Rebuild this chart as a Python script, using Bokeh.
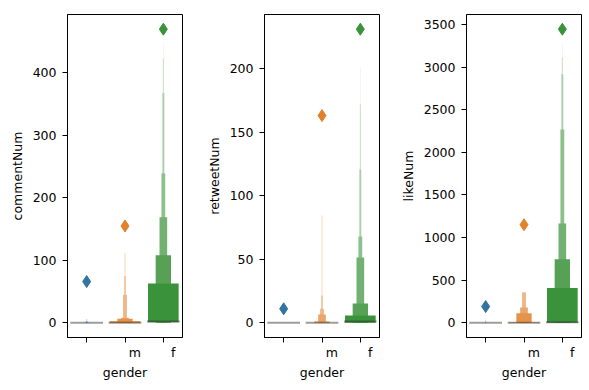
import numpy as np
from bokeh.plotting import figure
from bokeh.layouts import row
from bokeh.models import Range1d, FixedTicker, ColumnDataSource
from bokeh.embed import file_html
from bokeh.resources import INLINE

# ---------------- data ----------------
genders = ["", "m", "f"]
tick_labels = ["", "m", "f"]
palette = ["#3274a1", "#e1812c", "#3a923a"]

# commentNum: letter-value box ends, innermost (quartiles) first
comment_median = [0, 0, 2]
comment_max = [66, 155, 470]
comment_upper = [
    [0, 0, 0, 1, 3, 6, 6],
    [2.6, 6.4, 8, 45, 75, 112, 112],
    [63, 108, 169, 239, 368, 423, 447],
]
comment_lower = [
    [0, 0, 0, 0, 0, 0, 0],
    [0, 0, 0, 0, 0, 0, 0],
    [1, 0, 0, 0, 0, 0, 0],
]
comment_ticks = [0, 100, 200, 300, 400]

# retweetNum
retweet_median = [0, 0, 1]
retweet_max = [11, 163, 231]
retweet_upper = [
    [0, 0, 0, 0, 0, 0, 0],
    [0, 1, 6.5, 11, 21.5, 84.5, 84.5],
    [5.7, 15.2, 51.4, 68, 120.7, 172, 201],
]
retweet_lower = [
    [0, 0, 0, 0, 0, 0, 0],
    [0, 0, 0, 0, 0, 0, 0],
    [0, 0, 0, 0, 0, 0, 0],
]
retweet_ticks = [0, 50, 100, 150, 200]

# likeNum
like_median = [0, 0, 8]
like_max = [191, 1151, 3445]
like_upper = [
    [0, 0, 0, 2, 10, 30, 50],
    [8, 113, 180, 356, 358, 360, 360],
    [409, 745, 1166, 2268, 2916, 3120, 3277],
]
like_lower = [
    [0, 0, 0, 0, 0, 0, 0],
    [0, 0, 0, 0, 0, 0, 0],
    [0, 0, 0, 0, 0, 0, 0],
]
like_ticks = [0, 500, 1000, 1500, 2000, 2500, 3000, 3500]

FONT = "DejaVu Sans"
FS = "12.5px"
NBSP = "\u00a0"


def mix_white(hex_color, t):
    h = hex_color.lstrip("#")
    rgb = [int(h[i:i + 2], 16) for i in (0, 2, 4)]
    out = [round(c + (255 - c) * t) for c in rgb]
    return "#%02x%02x%02x" % tuple(out)


def make_panel(ylabel, medians, maxima, uppers, lowers, yticks,
               border_left, border_right):
    lo = 0.0
    hi = float(max(maxima))
    span = hi - lo
    p = figure(frame_width=115, frame_height=323,
               x_range=Range1d(-0.5, 2.5),
               y_range=Range1d(lo - 0.05 * span, hi + 0.05 * span),
               output_backend="svg", toolbar_location=None,
               min_border_left=border_left, min_border_right=border_right,
               min_border_top=14, min_border_bottom=45)
    p.background_fill_color = "white"
    p.border_fill_color = "white"
    p.outline_line_color = "black"
    p.outline_line_width = 1
    p.xgrid.visible = False
    p.ygrid.visible = False

    for ci in range(len(genders)):
        up = uppers[ci]
        lw = lowers[ci]
        k = len(up)
        left, right, bottom, top, colors = [], [], [], [], []
        for j in range(k - 1, -1, -1):
            w = 0.8 * 2.0 ** (-j)
            left.append(ci - w / 2)
            right.append(ci + w / 2)
            bottom.append(lw[j])
            top.append(up[j])
            t = 0.85 * j / (k - 1) if k > 1 else 0
            colors.append(mix_white(palette[ci], t))
        src = ColumnDataSource(dict(left=left, right=right, bottom=bottom,
                                    top=top, color=colors))
        p.quad(left="left", right="right", bottom="bottom", top="top",
               fill_color="color", line_color=None, source=src)

    msrc = ColumnDataSource(dict(
        x0=[ci - 0.4 for ci in range(len(genders))],
        x1=[ci + 0.4 for ci in range(len(genders))],
        y=medians))
    p.segment(x0="x0", x1="x1", y0="y", y1="y", source=msrc,
              line_color="#262626", line_alpha=0.45, line_width=2,
              line_cap="square")

    osrc = ColumnDataSource(dict(x=list(range(len(genders))), y=maxima,
                                 color=palette))
    p.scatter(x="x", y="y", marker="diamond", size=12, fill_color="color",
              line_color="color", source=osrc)

    p.xaxis.ticker = FixedTicker(ticks=list(range(len(genders))))
    p.xaxis.major_label_overrides = {
        i: (NBSP * 5 + lab if lab else "") for i, lab in enumerate(tick_labels)}
    p.yaxis.ticker = FixedTicker(ticks=yticks)
    p.xaxis.axis_label = "gender"
    p.yaxis.axis_label = ylabel
    for ax in (p.xaxis[0], p.yaxis[0]):
        ax.axis_line_color = "black"
        ax.major_tick_line_color = "black"
        ax.major_tick_out = 5
        ax.major_tick_in = 0
        ax.minor_tick_out = 0
        ax.minor_tick_in = 0
        ax.major_label_text_font = FONT
        ax.major_label_text_font_size = FS
        ax.major_label_text_color = "black"
        ax.axis_label_text_font = FONT
        ax.axis_label_text_font_size = FS
        ax.axis_label_text_font_style = "normal"
        ax.axis_label_text_color = "black"
    p.yaxis.major_label_standoff = 6
    p.yaxis.axis_label_standoff = 5
    p.xaxis.major_label_standoff = 2
    p.xaxis.axis_label_standoff = 2
    return p


p1 = make_panel("commentNum", comment_median, comment_max, comment_upper,
                comment_lower, comment_ticks, 67, 18)
p2 = make_panel("retweetNum", retweet_median, retweet_max, retweet_upper,
                retweet_lower, retweet_ticks, 64, 18)
p3 = make_panel("likeNum", like_median, like_max, like_upper,
                like_lower, like_ticks, 64, 4)

layout = row(p1, p2, p3)
open("out.html", "w").write(file_html(layout, INLINE))
